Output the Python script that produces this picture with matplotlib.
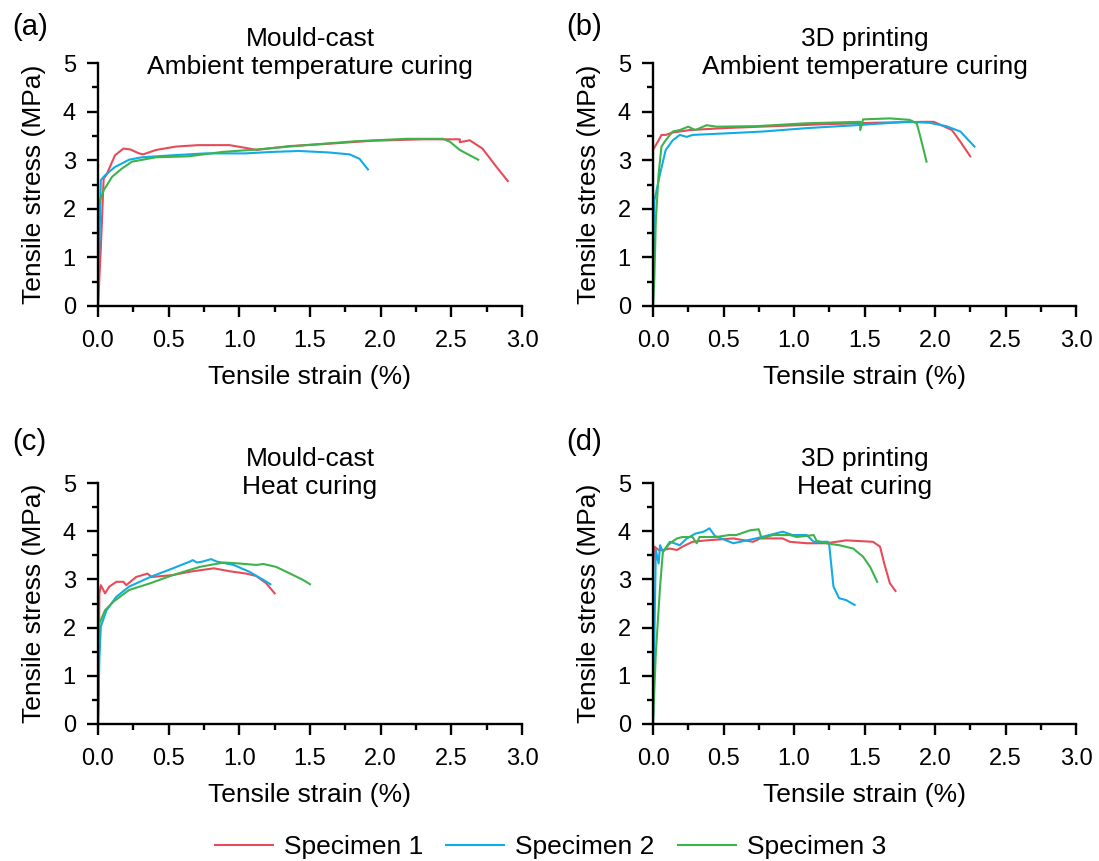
import matplotlib
matplotlib.use("Agg")
import matplotlib.pyplot as plt
from matplotlib.ticker import MultipleLocator

plt.rcParams['font.family'] = ['Liberation Sans', 'DejaVu Sans']

# ---- data (strain %, stress MPa) ----
# (a) Mould-cast, ambient curing
a1_x = [0.0, 0.02, 0.04, 0.06, 0.12, 0.18, 0.23, 0.29, 0.32, 0.41, 0.55, 0.71, 0.93, 1.07, 1.12, 1.35, 1.59, 1.94, 2.30, 2.56, 2.56, 2.63, 2.72, 2.82, 2.90]
a1_y = [0.0, 1.2, 2.62, 2.70, 3.10, 3.24, 3.22, 3.14, 3.12, 3.21, 3.28, 3.31, 3.31, 3.24, 3.21, 3.29, 3.33, 3.40, 3.43, 3.43, 3.37, 3.41, 3.24, 2.86, 2.57]
a2_x = [0.0, 0.02, 0.05, 0.12, 0.22, 0.31, 0.52, 0.76, 1.04, 1.23, 1.42, 1.63, 1.78, 1.85, 1.91]
a2_y = [0.0, 2.59, 2.69, 2.86, 3.01, 3.06, 3.10, 3.14, 3.14, 3.17, 3.19, 3.16, 3.12, 3.03, 2.81]
a3_x = [0.0, 0.005, 0.04, 0.10, 0.17, 0.24, 0.41, 0.64, 0.88, 1.12, 1.47, 1.82, 2.18, 2.44, 2.49, 2.56, 2.69]
a3_y = [0.0, 2.10, 2.38, 2.66, 2.83, 2.97, 3.06, 3.08, 3.17, 3.22, 3.31, 3.39, 3.44, 3.44, 3.38, 3.21, 3.01]

# (b) 3D printing, ambient curing
b1_x = [0.0, 0.0, 0.04, 0.06, 0.09, 0.14, 0.26, 0.50, 0.85, 1.21, 1.56, 1.92, 1.99, 2.03, 2.12, 2.18, 2.25]
b1_y = [0.0, 3.21, 3.41, 3.52, 3.52, 3.57, 3.62, 3.66, 3.70, 3.74, 3.77, 3.79, 3.79, 3.74, 3.62, 3.38, 3.08]
b2_x = [0.0, 0.01, 0.05, 0.09, 0.14, 0.19, 0.24, 0.28, 0.50, 0.78, 1.09, 1.44, 1.80, 1.96, 2.08, 2.18, 2.28]
b2_y = [0.0, 2.17, 2.72, 3.21, 3.41, 3.52, 3.48, 3.52, 3.55, 3.59, 3.66, 3.72, 3.79, 3.77, 3.70, 3.59, 3.28]
b3_x = [0.0, 0.01, 0.02, 0.04, 0.06, 0.09, 0.14, 0.19, 0.25, 0.30, 0.38, 0.45, 0.73, 1.09, 1.47, 1.47, 1.49, 1.68, 1.82, 1.87, 1.89, 1.94]
b3_y = [0.0, 0.59, 1.76, 2.72, 3.28, 3.41, 3.59, 3.62, 3.69, 3.62, 3.72, 3.69, 3.70, 3.76, 3.79, 3.62, 3.84, 3.86, 3.83, 3.76, 3.55, 2.97]

# (c) Mould-cast, heat curing
c1_x = [0.0, 0.01, 0.02, 0.05, 0.08, 0.13, 0.18, 0.20, 0.27, 0.35, 0.38, 0.53, 0.65, 0.82, 0.93, 1.05, 1.12, 1.19, 1.25]
c1_y = [0.0, 2.71, 2.88, 2.71, 2.85, 2.95, 2.95, 2.88, 3.05, 3.12, 3.05, 3.09, 3.16, 3.23, 3.17, 3.12, 3.07, 2.92, 2.71]
c2_x = [0.0, 0.01, 0.02, 0.06, 0.13, 0.22, 0.37, 0.53, 0.65, 0.67, 0.70, 0.74, 0.80, 0.84, 0.96, 1.07, 1.17, 1.22]
c2_y = [0.0, 1.36, 2.02, 2.36, 2.64, 2.85, 3.05, 3.23, 3.37, 3.40, 3.35, 3.37, 3.42, 3.37, 3.30, 3.16, 2.99, 2.90]
c3_x = [0.0, 0.01, 0.05, 0.11, 0.22, 0.37, 0.53, 0.72, 0.89, 1.00, 1.12, 1.17, 1.26, 1.36, 1.45, 1.50]
c3_y = [0.0, 2.09, 2.36, 2.54, 2.78, 2.92, 3.09, 3.26, 3.35, 3.33, 3.30, 3.32, 3.26, 3.12, 2.99, 2.90]

# (d) 3D printing, heat curing
d1_x = [0.0, 0.0, 0.01, 0.04, 0.07, 0.12, 0.17, 0.21, 0.28, 0.38, 0.57, 0.71, 0.76, 0.92, 0.97, 1.09, 1.23, 1.37, 1.56, 1.61, 1.64, 1.68, 1.72]
d1_y = [0.0, 3.19, 3.68, 3.61, 3.61, 3.64, 3.61, 3.68, 3.78, 3.81, 3.85, 3.78, 3.85, 3.85, 3.78, 3.75, 3.75, 3.81, 3.78, 3.68, 3.33, 2.92, 2.76]
d2_x = [0.0, 0.01, 0.02, 0.04, 0.05, 0.07, 0.12, 0.19, 0.24, 0.30, 0.36, 0.40, 0.44, 0.57, 0.73, 0.92, 0.99, 1.09, 1.14, 1.24, 1.25, 1.28, 1.32, 1.37, 1.43]
d2_y = [0.0, 1.81, 3.61, 3.33, 3.71, 3.57, 3.78, 3.71, 3.85, 3.95, 3.99, 4.06, 3.90, 3.75, 3.85, 3.99, 3.92, 3.92, 3.78, 3.78, 3.71, 2.85, 2.61, 2.57, 2.47]
d3_x = [0.0, 0.02, 0.05, 0.07, 0.12, 0.17, 0.21, 0.28, 0.31, 0.33, 0.45, 0.54, 0.59, 0.69, 0.75, 0.77, 0.85, 0.97, 1.02, 1.14, 1.16, 1.23, 1.32, 1.42, 1.49, 1.54, 1.59]
d3_y = [0.0, 1.47, 2.85, 3.57, 3.75, 3.85, 3.88, 3.88, 3.75, 3.88, 3.88, 3.92, 3.92, 4.02, 4.04, 3.85, 3.92, 3.92, 3.88, 3.92, 3.80, 3.75, 3.71, 3.64, 3.47, 3.26, 2.95]

labels = ['Specimen 1', 'Specimen 2', 'Specimen 3']
colors = ['#E64B5A', '#11ACE6', '#3DB34B']

panels = [
    ('(a)', 'Mould-cast\nAmbient temperature curing', [(a1_x, a1_y), (a2_x, a2_y), (a3_x, a3_y)]),
    ('(b)', '3D printing\nAmbient temperature curing', [(b1_x, b1_y), (b2_x, b2_y), (b3_x, b3_y)]),
    ('(c)', 'Mould-cast\nHeat curing', [(c1_x, c1_y), (c2_x, c2_y), (c3_x, c3_y)]),
    ('(d)', '3D printing\nHeat curing', [(d1_x, d1_y), (d2_x, d2_y), (d3_x, d3_y)]),
]

W, H = 1099, 861
fig = plt.figure(figsize=(W / 100, H / 100), dpi=100)

# axes boxes in pixels: left, top, right, bottom
boxes = [(98, 63, 522, 306), (653, 63, 1076, 306), (98, 483, 522, 724), (653, 483, 1076, 724)]
tag_pos = [(12, 27), (566, 27), (12, 442), (566, 442)]

fs = 19
handles = None
for (tag, title, series), (l, t, r, b), (tx, ty) in zip(panels, boxes, tag_pos):
    ax = fig.add_axes([l / W, 1 - b / H, (r - l) / W, (b - t) / H])
    lines = []
    for (x, y), c in zip(series, colors):
        ln, = ax.plot(x, y, color=c, lw=1.5)
        lines.append(ln)
    handles = lines
    ax.set_xlim(0, 3.0)
    ax.set_ylim(0, 5)
    ax.xaxis.set_major_locator(MultipleLocator(0.5))
    ax.xaxis.set_minor_locator(MultipleLocator(0.25))
    ax.yaxis.set_major_locator(MultipleLocator(1))
    ax.yaxis.set_minor_locator(MultipleLocator(0.5))
    ax.set_xticklabels([f'{v:.1f}' for v in ax.get_xticks()])
    for side in ['top', 'right']:
        ax.spines[side].set_visible(False)
    for side in ['left', 'bottom']:
        ax.spines[side].set_linewidth(1.7)
    ax.tick_params(which='major', direction='out', length=8, width=1.7, labelsize=17)
    ax.tick_params(which='minor', direction='out', length=4.5, width=1.7)
    ax.tick_params(axis='x', which='major', pad=9)
    ax.tick_params(axis='y', which='major', pad=8)
    ax.set_xlabel('Tensile strain (%)', fontsize=fs)
    ax.set_ylabel('Tensile stress (MPa)', fontsize=fs)
    ax.xaxis.set_label_coords(0.5, -(365 - 306) / 243)
    ax.yaxis.set_label_coords(-(98 - 46) / 424, 0.5)
    fig.text((l + r) / 2 / W, 1 - (t - 10) / H, title, ha='center', va='center',
             fontsize=fs, linespacing=1.2)
    fig.text(tx / W, 1 - ty / H, tag, fontsize=21, ha='left', va='center')

fig.legend(handles, labels, loc='center', bbox_to_anchor=(0.501, 1 - 847 / H), ncol=3,
           frameon=False, fontsize=fs, handlelength=2.2, columnspacing=0.87, handletextpad=0.42)

fig.savefig('out.png', dpi=100)
